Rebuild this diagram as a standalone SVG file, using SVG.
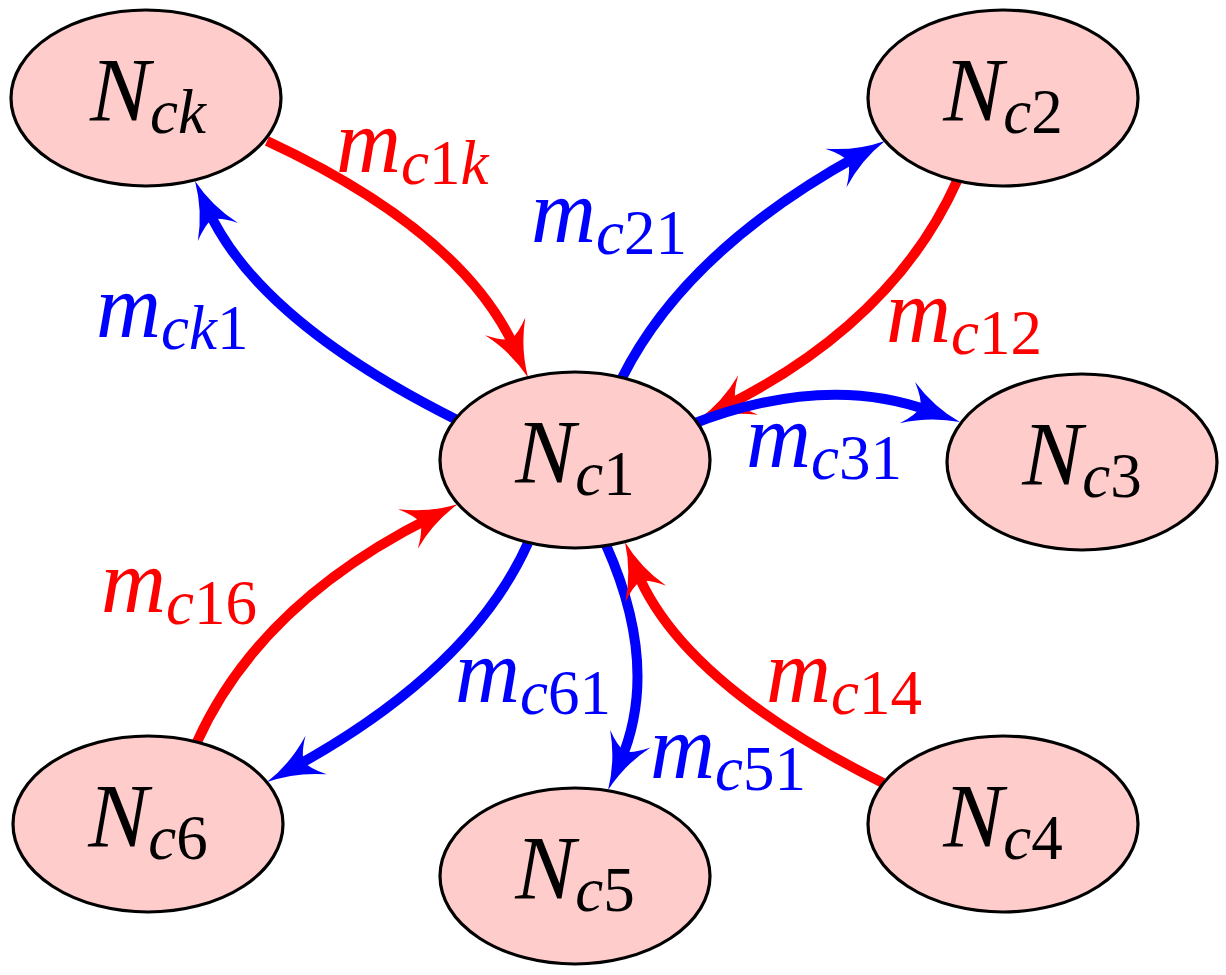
<svg xmlns="http://www.w3.org/2000/svg" width="1226" height="975" viewBox="0 0 1226 975">
<style>
.node ellipse{fill:#ffcccc;stroke:#000;stroke-width:3.2}
.nl{font-family:"Liberation Serif","Times New Roman",serif;font-size:90px;font-style:italic;fill:#000}
.lb{font-family:"Liberation Serif","Times New Roman",serif;font-size:90px;font-style:italic}
.sub{font-size:63px}
.up{font-style:normal}
.red{fill:#ff0000}
.blue{fill:#0000ff}
.er{fill:none;stroke:#ff0000;stroke-width:10;marker-end:url(#ar)}
.eb{fill:none;stroke:#0000ff;stroke-width:10;marker-end:url(#ab)}
</style>
<defs>
<marker id="ar" markerUnits="userSpaceOnUse" markerWidth="58" markerHeight="48" refX="26" refY="24" orient="auto" overflow="visible">
<path d="M56,24 Q26,29 0,46 Q12,33 14,24 Q12,15 0,2 Q26,19 56,24 Z" fill="#ff0000"/>
</marker>
<marker id="ab" markerUnits="userSpaceOnUse" markerWidth="58" markerHeight="48" refX="26" refY="24" orient="auto" overflow="visible">
<path d="M56,24 Q26,29 0,46 Q12,33 14,24 Q12,15 0,2 Q26,19 56,24 Z" fill="#0000ff"/>
</marker>
</defs>
<g id="connectors">
<path id="e-c1k" class="er" d="M267,141 Q463,232 515.8,350.1"/>
<path id="e-ck1" class="eb" d="M457,420 Q257.7,320.4 207.3,208.3"/>
<path id="e-c21" class="eb" d="M622,378 Q685.7,250.6 858.7,155.4"/>
<path id="e-c12" class="er" d="M957,181 Q893.4,322.3 724.8,406.6"/>
<path id="e-c31" class="eb" d="M690,425 Q825,372 931.8,411.6"/>
<path id="e-c16" class="er" d="M197,742 Q259.4,603.3 431.2,517.4"/>
<path id="e-c61" class="eb" d="M528,543 Q470.9,669.9 293.3,767.6"/>
<path id="e-c51" class="eb" d="M606,545 Q661,668 620,762.5"/>
<path id="e-c14" class="er" d="M883,783 Q681,682 636.1,569.8"/>
</g>
<g id="labels">
<text class="lb red" x="336" y="172">m<tspan class="sub" dy="12">c<tspan class="up">1</tspan>k</tspan></text>
<text class="lb blue" x="531" y="242">m<tspan class="sub" dy="12">c<tspan class="up">21</tspan></tspan></text>
<text class="lb blue" x="96" y="337">m<tspan class="sub" dy="12">ck<tspan class="up">1</tspan></tspan></text>
<text class="lb red" x="886" y="342">m<tspan class="sub" dy="12">c<tspan class="up">12</tspan></tspan></text>
<text class="lb blue" x="746" y="467">m<tspan class="sub" dy="12">c<tspan class="up">31</tspan></tspan></text>
<text class="lb red" x="101" y="612">m<tspan class="sub" dy="12">c<tspan class="up">16</tspan></tspan></text>
<text class="lb blue" x="455" y="702">m<tspan class="sub" dy="12">c<tspan class="up">61</tspan></tspan></text>
<text class="lb red" x="766" y="702">m<tspan class="sub" dy="12">c<tspan class="up">14</tspan></tspan></text>
<text class="lb blue" x="650" y="778">m<tspan class="sub" dy="12">c<tspan class="up">51</tspan></tspan></text>
</g>
<g id="Nck" class="node"><ellipse cx="146" cy="98" rx="135" ry="88"/><text class="nl" x="148" y="121" text-anchor="middle">N<tspan class="sub" dy="12">ck</tspan></text></g>
<g id="Nc2" class="node"><ellipse cx="1003" cy="98" rx="135" ry="88"/><text class="nl" x="1003" y="121" text-anchor="middle">N<tspan class="sub" dy="12">c<tspan class="up">2</tspan></tspan></text></g>
<g id="Nc1" class="node"><ellipse cx="575" cy="460" rx="135" ry="88"/><text class="nl" x="575" y="483" text-anchor="middle">N<tspan class="sub" dy="12">c<tspan class="up">1</tspan></tspan></text></g>
<g id="Nc3" class="node"><ellipse cx="1082" cy="462" rx="135" ry="88"/><text class="nl" x="1082" y="485" text-anchor="middle">N<tspan class="sub" dy="12">c<tspan class="up">3</tspan></tspan></text></g>
<g id="Nc6" class="node"><ellipse cx="148" cy="824" rx="135" ry="88"/><text class="nl" x="148" y="847" text-anchor="middle">N<tspan class="sub" dy="12">c<tspan class="up">6</tspan></tspan></text></g>
<g id="Nc5" class="node"><ellipse cx="575" cy="876" rx="135" ry="88"/><text class="nl" x="575" y="899" text-anchor="middle">N<tspan class="sub" dy="12">c<tspan class="up">5</tspan></tspan></text></g>
<g id="Nc4" class="node"><ellipse cx="1003" cy="824" rx="135" ry="88"/><text class="nl" x="1003" y="847" text-anchor="middle">N<tspan class="sub" dy="12">c<tspan class="up">4</tspan></tspan></text></g>
</svg>
